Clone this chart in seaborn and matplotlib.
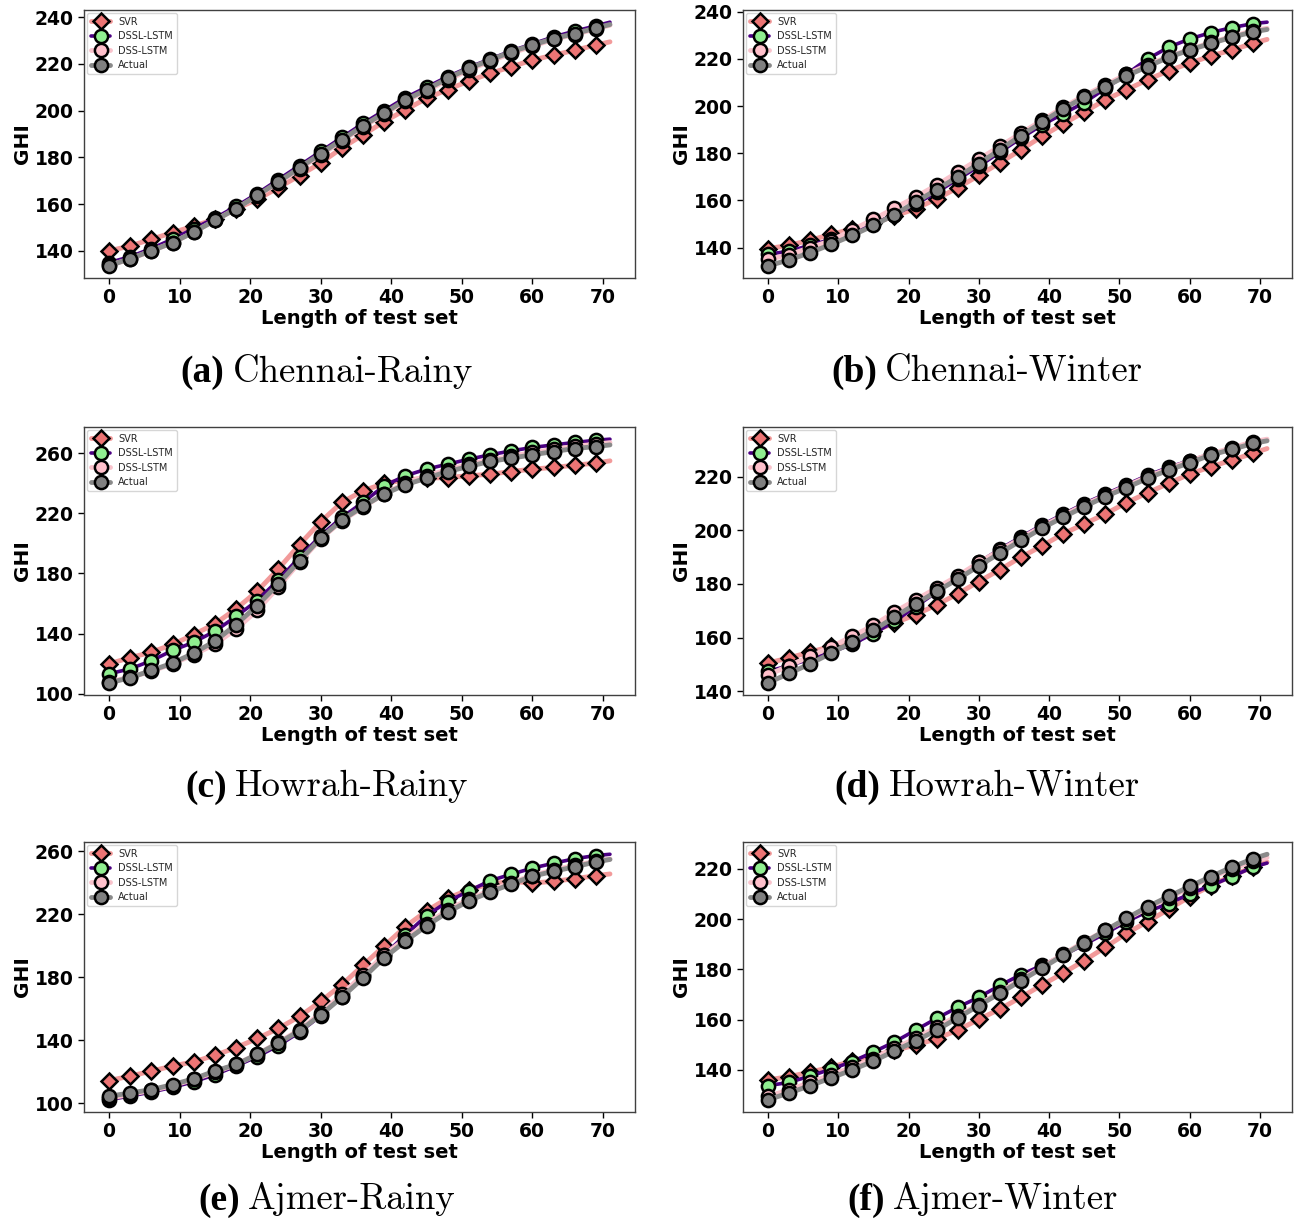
import matplotlib
matplotlib.use("Agg")
import matplotlib.pyplot as plt
import seaborn as sns
from matplotlib.offsetbox import TextArea, HPacker, AnchoredOffsetbox

# ---------------- data ----------------
# test-set index: markers every 3 steps (0..69), line runs to 71
x_idx = [0, 3, 6, 9, 12, 15, 18, 21, 24, 27, 30, 33, 36, 39, 42, 45, 48, 51, 54, 57, 60, 63, 66, 69, 71]

# (a) Chennai-Rainy
cr_svr = [140.0, 142.1, 145.0, 147.8, 150.6, 153.5, 158.0, 162.0, 167.0, 172.2, 177.6, 184.0, 189.6, 195.3,
          200.3, 205.2, 209.0, 212.6, 215.9, 218.7, 221.6, 223.7, 225.8, 228.0, 229.4]
cr_dssl = [135.0, 137.5, 141.0, 145.0, 149.5, 154.0, 159.0, 164.5, 170.5, 176.5, 182.5, 188.5, 194.5, 200.0,
           205.5, 210.0, 214.5, 218.5, 222.0, 225.5, 228.5, 231.5, 234.0, 236.2, 237.8]
cr_dss = [133.8, 136.5, 140.0, 143.5, 148.0, 153.0, 158.0, 163.5, 169.0, 175.0, 181.0, 187.0, 193.0, 198.5,
          204.0, 208.5, 213.0, 217.5, 221.0, 224.5, 227.5, 230.5, 232.5, 235.0, 236.5]
cr_act = [133.6, 136.7, 140.0, 143.5, 148.0, 153.0, 158.0, 163.7, 169.5, 175.5, 181.6, 187.5, 193.5, 198.9,
          204.5, 209.0, 213.8, 218.0, 221.6, 225.1, 228.0, 230.8, 232.9, 235.3, 236.8]

# (b) Chennai-Winter
cw_svr = [139.6, 141.0, 143.2, 145.6, 148.0, 150.3, 153.4, 156.5, 160.7, 165.4, 170.6, 176.0, 181.5, 187.2,
          192.5, 197.5, 202.7, 206.9, 211.2, 215.0, 218.2, 221.3, 223.8, 226.6, 228.3]
cw_dssl = [137.2, 138.5, 141.0, 143.5, 146.5, 150.0, 154.0, 158.5, 163.5, 169.0, 174.5, 180.5, 186.5, 192.0,
           196.8, 201.5, 207.5, 213.5, 220.0, 225.0, 228.5, 231.2, 233.3, 235.0, 235.6]
cw_dss = [135.0, 137.0, 140.0, 143.0, 147.5, 152.0, 156.7, 161.5, 166.5, 172.0, 177.5, 183.0, 188.5, 194.0,
          199.5, 204.5, 209.0, 213.5, 217.5, 221.0, 224.0, 227.0, 229.5, 232.0, 233.0]
cw_act = [132.3, 134.8, 137.9, 141.4, 145.2, 149.4, 154.0, 159.3, 164.6, 170.0, 175.6, 181.5, 187.5, 193.2,
          198.9, 203.8, 208.3, 212.8, 216.8, 220.7, 223.8, 226.6, 229.2, 231.5, 232.5]

# (c) Howrah-Rainy
hr_svr = [120.0, 124.0, 127.7, 132.8, 139.4, 146.5, 156.5, 168.2, 183.0, 199.2, 214.4, 227.3, 235.0, 239.9,
          242.1, 243.4, 243.8, 245.0, 246.0, 247.8, 249.4, 250.5, 252.0, 253.4, 254.9]
hr_dssl = [113.3, 116.6, 122.0, 128.8, 134.3, 141.6, 151.4, 162.0, 175.7, 190.8, 205.1, 217.3, 227.3, 238.3,
           245.0, 249.4, 252.7, 256.0, 258.9, 261.5, 263.8, 265.5, 267.1, 268.6, 269.3]
hr_dss = [108.0, 111.0, 115.0, 120.0, 126.0, 133.0, 143.0, 155.5, 171.0, 187.5, 203.0, 215.0, 224.0, 233.0,
          240.0, 245.0, 249.0, 252.5, 255.5, 258.0, 260.5, 262.5, 264.5, 266.0, 267.0]
hr_act = [107.3, 110.7, 115.5, 120.4, 127.0, 135.0, 146.0, 158.7, 173.0, 188.5, 203.6, 215.5, 224.6, 232.8,
          239.0, 243.4, 247.8, 251.2, 254.5, 256.7, 258.9, 261.1, 263.1, 264.4, 265.5]

# (d) Howrah-Winter
hw_svr = [150.5, 152.4, 154.6, 156.7, 158.9, 162.3, 165.4, 168.5, 172.2, 176.3, 180.9, 185.3, 190.0, 194.2,
          198.7, 202.4, 206.1, 210.3, 214.0, 217.5, 221.0, 223.7, 226.2, 228.7, 230.5]
hw_dssl = [147.4, 149.5, 152.0, 154.5, 157.5, 161.5, 166.0, 171.5, 177.0, 182.5, 188.0, 193.0, 197.5, 202.0,
           206.0, 210.0, 213.5, 217.0, 220.5, 223.5, 226.0, 228.5, 230.5, 232.5, 233.8]
hw_dss = [146.0, 149.5, 153.0, 156.5, 160.5, 164.5, 169.5, 174.0, 178.5, 183.0, 188.0, 192.5, 197.0, 201.5,
          205.5, 209.5, 213.0, 216.5, 220.0, 223.0, 225.8, 228.5, 230.8, 233.0, 234.0]
hw_act = [143.1, 146.6, 150.2, 154.2, 158.3, 162.7, 167.6, 172.5, 177.2, 181.8, 186.7, 191.5, 196.2, 200.8,
          204.9, 208.8, 212.6, 215.9, 219.4, 222.5, 225.2, 228.1, 230.2, 232.4, 233.4]

# (e) Ajmer-Rainy
ar_svr = [114.3, 117.1, 120.3, 123.5, 126.2, 130.3, 135.2, 141.0, 147.4, 155.0, 164.6, 175.1, 187.5, 199.8,
          212.0, 222.0, 230.1, 235.5, 239.1, 240.8, 239.7, 240.8, 242.5, 244.4, 245.5]
ar_dssl = [102.1, 104.5, 107.0, 110.0, 113.5, 118.0, 123.5, 129.5, 136.5, 145.0, 155.5, 167.5, 180.5, 194.0,
           206.8, 219.0, 228.0, 234.7, 241.2, 245.3, 249.2, 252.3, 255.2, 257.2, 258.0]
ar_dss = [103.0, 105.5, 108.0, 111.0, 115.0, 119.5, 124.5, 131.0, 138.5, 146.5, 157.0, 169.0, 181.5, 194.0,
          204.5, 214.0, 222.5, 229.5, 235.0, 240.0, 244.5, 248.0, 251.0, 253.5, 255.0]
ar_act = [104.3, 106.4, 108.5, 111.7, 115.4, 120.3, 124.5, 130.9, 138.0, 145.9, 155.9, 167.2, 179.4, 192.2,
          202.8, 212.6, 221.2, 228.4, 234.0, 239.1, 244.0, 247.2, 250.0, 253.2, 254.7]

# (f) Ajmer-Winter
aw_svr = [136.0, 137.3, 139.1, 141.1, 143.5, 145.5, 147.8, 149.8, 152.4, 155.8, 160.1, 164.2, 168.9, 173.8,
          178.5, 183.5, 188.8, 194.3, 199.0, 203.9, 208.9, 213.3, 217.3, 220.7, 222.7]
aw_dssl = [133.7, 135.0, 137.5, 140.3, 143.3, 147.1, 151.1, 155.8, 160.5, 164.9, 168.9, 173.6, 177.9, 181.6,
           185.6, 189.9, 194.3, 199.0, 203.0, 206.2, 210.0, 213.3, 216.9, 220.7, 222.3]
aw_dss = [129.5, 132.0, 135.0, 138.0, 141.0, 144.5, 148.5, 152.5, 157.0, 161.5, 166.0, 171.0, 176.0, 181.0,
          186.0, 191.0, 195.5, 200.0, 204.5, 208.5, 212.5, 216.5, 220.0, 223.0, 224.5]
aw_act = [128.1, 130.8, 133.7, 136.8, 140.0, 143.5, 147.5, 151.5, 155.8, 160.7, 165.6, 170.5, 175.5, 180.5,
          185.6, 190.6, 195.5, 200.3, 204.9, 209.0, 213.0, 216.9, 220.7, 224.0, 225.8]

series_names = ["SVR", "DSSL-LSTM", "DSS-LSTM", "Actual"]
panel_tags = ["(a)", "(b)", "(c)", "(d)", "(e)", "(f)"]
panel_titles = ["Chennai-Rainy", "Chennai-Winter", "Howrah-Rainy", "Howrah-Winter", "Ajmer-Rainy", "Ajmer-Winter"]
panel_data = [
    [cr_svr, cr_dssl, cr_dss, cr_act],
    [cw_svr, cw_dssl, cw_dss, cw_act],
    [hr_svr, hr_dssl, hr_dss, hr_act],
    [hw_svr, hw_dssl, hw_dss, hw_act],
    [ar_svr, ar_dssl, ar_dss, ar_act],
    [aw_svr, aw_dssl, aw_dss, aw_act],
]
x_ticks = [0, 10, 20, 30, 40, 50, 60, 70]
y_ticks = [
    [140, 160, 180, 200, 220, 240],
    [140, 160, 180, 200, 220, 240],
    [100, 140, 180, 220, 260],
    [140, 160, 180, 200, 220],
    [100, 140, 180, 220, 260],
    [140, 160, 180, 200, 220],
]

# ---------------- style ----------------
sns.set_style("ticks")
plt.rcParams['font.family'] = ['DejaVu Sans']
plt.rcParams['font.weight'] = 'bold'
plt.rcParams['axes.labelweight'] = 'bold'

styles = [
    dict(color="#f29a9a", lw=3.5, marker="D", ms=8.5, mfc="#ec7474"),
    dict(color="#4b0082", lw=2.6, marker="o", ms=9.5, mfc="#90ee90"),
    dict(color="#f9c3cc", lw=3.5, marker="o", ms=9.5, mfc="#ffc0cb"),
    dict(color="#8a8a8a", lw=3.5, marker="o", ms=9.5, mfc="#808080"),
]

W, H = 1298, 1224
fig = plt.figure(figsize=(W / 100, H / 100), dpi=100)

# axes frames in pixels: left, top, right, bottom
frames = [
    (84, 10, 635, 278), (743, 10, 1292, 278),
    (84, 427, 635, 695), (743, 427, 1292, 695),
    (84, 842, 635, 1112), (743, 842, 1292, 1112),
]
cap_pos = [(327, 372), (987, 372), (327, 787), (987, 787), (327, 1200), (983, 1200)]

n_mark = len(x_idx) - 1
for i, (l, t, r, b) in enumerate(frames):
    ax = fig.add_axes([l / W, 1 - b / H, (r - l) / W, (b - t) / H])
    for name, vals, st in zip(series_names, panel_data[i], styles):
        sns.lineplot(x=x_idx, y=vals, ax=ax, color=st["color"], linewidth=st["lw"],
                     marker=st["marker"], markersize=st["ms"], markerfacecolor=st["mfc"],
                     markeredgecolor="black", markeredgewidth=1.8,
                     markevery=list(range(n_mark)), label=name)
    ax.set_xticks(x_ticks)
    ax.set_yticks(y_ticks[i])
    ax.tick_params(labelsize=13.5, length=4, width=1, colors="black")
    ax.set_xlabel("Length of test set", fontsize=14, fontweight="bold", labelpad=1, color="black")
    ax.set_ylabel("GHI", fontsize=14.5, fontweight="bold", labelpad=2, color="black")
    for sp in ax.spines.values():
        sp.set_color("0.25")
        sp.set_linewidth(1.0)
    ax.legend(loc="upper left", prop=dict(size=7, weight="normal"), labelspacing=0.45,
              handlelength=2.0, borderpad=0.4, framealpha=0.8, borderaxespad=0.3)

    tag = TextArea(panel_tags[i], textprops=dict(fontfamily="Liberation Serif", fontweight="bold",
                                                 fontsize=27, color="black"))
    ttl = TextArea(panel_titles[i], textprops=dict(fontfamily="cmr10", fontweight="normal",
                                                   fontsize=26.5, color="black"))
    pack = HPacker(children=[tag, ttl], sep=6, pad=0, align="baseline")
    cx, cy = cap_pos[i]
    box = AnchoredOffsetbox(loc="center", child=pack, pad=0, borderpad=0, frameon=False,
                            bbox_to_anchor=(cx / W, 1 - cy / H), bbox_transform=fig.transFigure)
    fig.add_artist(box)

fig.savefig("out.png", dpi=100)
